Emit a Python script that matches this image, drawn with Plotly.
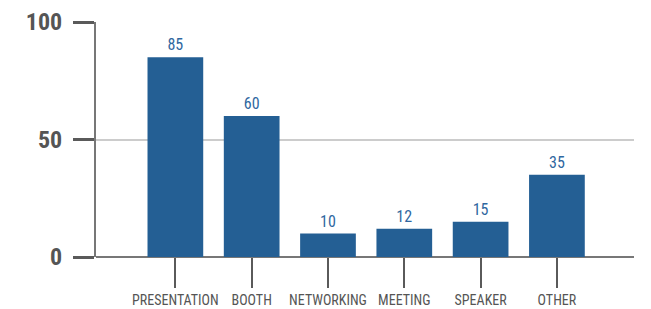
import plotly.graph_objects as go

categories = ["PRESENTATION", "BOOTH", "NETWORKING", "MEETING", "SPEAKER", "OTHER"]
values = [85, 60, 10, 12, 15, 35]
y_ticks = [0, 50, 100]

FONT = "Roboto Condensed, Archivo Narrow, Roboto, sans-serif"

fig = go.Figure(
    go.Bar(
        x=categories,
        y=values,
        marker=dict(color="#245f94", line=dict(width=0)),
        text=[str(v) for v in values],
        textposition="outside",
        textfont=dict(family=FONT, size=16, color="#2f67a0"),
        cliponaxis=False,
        width=0.73,
    )
)

fig.update_layout(
    width=651,
    height=309,
    margin=dict(l=88, r=25, t=14, b=60, autoexpand=False),
    plot_bgcolor="white",
    paper_bgcolor="white",
    showlegend=False,
)

fig.update_xaxes(
    type="category",
    range=[-1.04, 6.01],
    automargin=False,
    showgrid=False,
    showline=False,
    ticks="outside",
    ticklen=30,
    tickwidth=2,
    tickcolor="#5a5a5a",
    tickfont=dict(family=FONT, size=14, color="#555555"),
)

fig.update_yaxes(
    range=[0, 100],
    automargin=False,
    tickvals=y_ticks,
    showgrid=True,
    gridcolor="#cccccc",
    gridwidth=2,
    zeroline=True,
    zerolinecolor="#777777",
    zerolinewidth=2,
    showline=True,
    linecolor="#777777",
    linewidth=2,
    ticks="outside",
    ticklen=21,
    tickwidth=3,
    tickcolor="#5a5a5a",
    ticklabelstandoff=6,
    tickfont=dict(family=FONT, size=24, color="#555555", weight="bold"),
)

fig.write_html("out.html")
